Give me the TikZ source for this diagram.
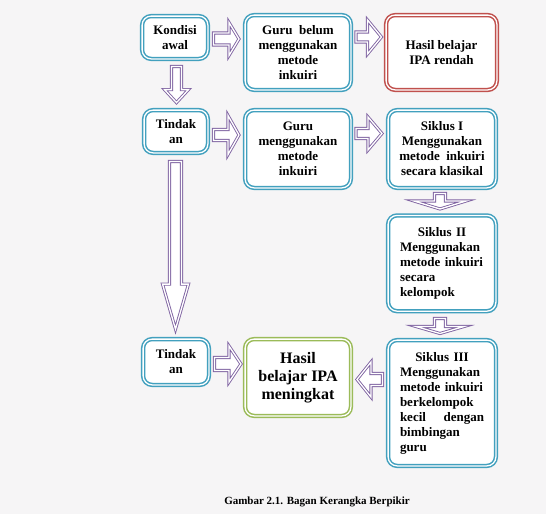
\documentclass[tikz,border=0pt]{standalone}
\usepackage{fontspec}
\setmainfont{Liberation Serif}
\usetikzlibrary{calc}
\definecolor{bgc}{RGB}{246,245,246}
\definecolor{tealc}{RGB}{66,160,190}
\definecolor{redc}{RGB}{192,80,77}
\definecolor{greenc}{RGB}{155,187,89}
\definecolor{purc}{RGB}{128,100,162}
\tikzset{
  box/.style={draw=tealc, double=white, line width=1.5pt, double distance=1.3pt,
    rounded corners=9pt, fill=white, inner sep=0pt, outer sep=0pt, align=center,
    font=\fontsize{13}{15}\selectfont\bfseries},
  barrow/.style={draw=purc, double=white, line width=0.9pt, double distance=1.3pt, fill=white},
  captext/.style={font=\fontsize{11}{12}\selectfont\bfseries}
}
\newcommand\blockarr[5]{%
  \path ($(#2)!#5!(#1)$) coordinate (hb);
  \draw[barrow] ($(#1)!#3!90:(#2)$) -- ($(hb)!#3!90:(#2)$) -- ($(hb)!#4!90:(#2)$) -- (#2)
    -- ($(hb)!#4!-90:(#2)$) -- ($(hb)!#3!-90:(#2)$) -- ($(#1)!#3!-90:(#2)$) -- cycle;}
\begin{document}
\begin{tikzpicture}[x=1pt,y=-1pt]
\fill[bgc] (0,0) rectangle (546,514);
\useasboundingbox (0,0) rectangle (546,514);

\node[box, minimum width=65.8pt, minimum height=42.8pt] (k1) at (175,37.5) {Kondisi\\awal};
\node[box, minimum width=105.8pt, minimum height=74.8pt] (g1) at (298,52.5) {Guru\ \ belum\\menggunakan\\metode\\inkuiri};
\node[box, draw=redc, minimum width=110.8pt, minimum height=74.8pt] (h1) at (441.5,52.5) {Hasil belajar\\IPA rendah};
\node[box, minimum width=63.8pt, minimum height=42.8pt] (t1) at (176,131.5) {Tindak\\an};
\node[box, minimum width=105.8pt, minimum height=77.8pt] (g2) at (298,149) {Guru\\menggunakan\\metode\\inkuiri};
\node[box, minimum width=107.8pt, minimum height=77.8pt] (s1) at (442,149) {Siklus I\\Menggunakan\\metode\ \ inkuiri\\secara klasikal};
\node[box, minimum width=107.8pt, minimum height=95.8pt, align=left, text width=84pt] (s2) at (442,263.3)
  {\makebox[84pt]{Siklus II}\\Menggunakan\\\mbox{metode inkuiri}\\secara\\kelompok};
\node[box, minimum width=107.8pt, minimum height=125.8pt, align=left, text width=84pt] (s3) at (442,403)
  {\makebox[84pt]{Siklus III}\\Menggunakan\\\mbox{metode inkuiri}\\berkelompok\\\makebox[84pt]{kecil\hfill dengan}\\bimbingan\\guru};
\node[box, minimum width=65.8pt, minimum height=45.8pt] (t2) at (176,362) {Tindak\\an};
\node[box, draw=greenc, minimum width=105.8pt, minimum height=76.8pt,
  font=\fontsize{16}{18}\selectfont\bfseries] (h2) at (298,377.5) {Hasil\\belajar IPA\\meningkat};

\node[captext] (cap) at (317,501.5) {Gambar 2.1. Bagan Kerangka Berpikir};

% connectors
\coordinate (a1s) at ([shift={(5.6,1.5)}]k1.east);
\coordinate (a1e) at ([shift={(-6.1,0)}]g1.west |- a1s);
\blockarr{a1s}{a1e}{6pt}{16.5pt}{10pt}

\coordinate (a2s) at ([shift={(5.1,-15.5)}]g1.east);
\coordinate (a2e) at ([shift={(-4.6,0)}]h1.west |- a2s);
\blockarr{a2s}{a2e}{5pt}{17pt}{14pt}

\coordinate (a3s) at ([shift={(1.5,7.6)}]k1.south);
\coordinate (a3e) at ([shift={(0.5,-7.5)}]t1.north);
\blockarr{a3s}{a3e}{5pt}{12pt}{13pt}

\coordinate (a4s) at ([shift={(5.6,3.5)}]t1.east);
\coordinate (a4e) at ([shift={(-6.1,0)}]g2.west |- a4s);
\blockarr{a4s}{a4e}{5.5pt}{19.5pt}{11pt}

\coordinate (a5s) at ([shift={(5.1,-15.5)}]g2.east);
\coordinate (a5e) at ([shift={(-6.1,0)}]s1.west |- a5s);
\blockarr{a5s}{a5e}{5pt}{16.5pt}{14pt}

\coordinate (a6s) at ([shift={(-2,5.6)}]s1.south);
\coordinate (a6e) at ([shift={(-2,-6.4)}]s2.north);
\blockarr{a6s}{a6e}{5.5pt}{26pt}{8pt}

\coordinate (a7s) at ([shift={(-2,7.3)}]s2.south);
\coordinate (a7e) at ([shift={(-2,-6.6)}]s3.north);
\blockarr{a7s}{a7e}{5.5pt}{24pt}{7pt}

\coordinate (a8s) at ([shift={(-0.5,8.6)}]t1.south);
\coordinate (a8e) at ([shift={(-0.5,-10)}]t2.north);
\blockarr{a8s}{a8e}{6pt}{13pt}{45pt}

\coordinate (a9s) at ([shift={(5.6,2)}]t2.east);
\coordinate (a9e) at ([shift={(-4.1,0)}]h2.west |- a9s);
\blockarr{a9s}{a9e}{6.5pt}{18pt}{12pt}

\coordinate (a10s) at ([shift={(-5.6,-23.5)}]s3.west);
\coordinate (a10e) at ([shift={(6.1,0)}]h2.east |- a10s);
\blockarr{a10s}{a10e}{6pt}{17.5pt}{14pt}
\end{tikzpicture}
\end{document}
